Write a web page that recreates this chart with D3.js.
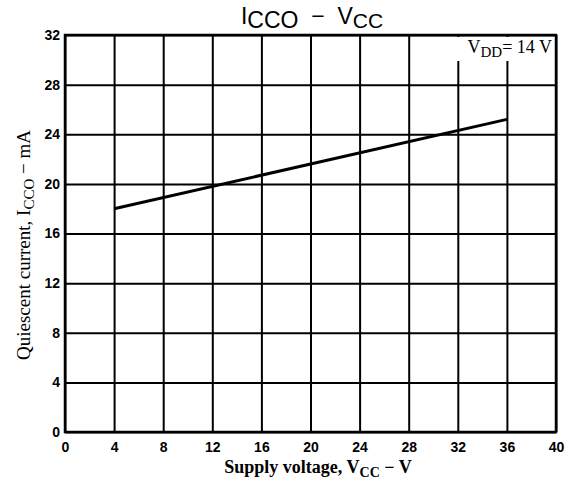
<!DOCTYPE html>
<head>
  <meta charset="utf-8">
  <script src="https://d3js.org/d3.v7.min.js"></script>
  <style>
    body { margin: 0; background: #fff; }
    svg { display: block; }
  </style>
</head>
<body>
  <svg width="570" height="486"></svg>
  <script>
    // data
    var voltage = [4, 36];
    var current = [18, 25.2];
    var xTicks = [0, 4, 8, 12, 16, 20, 24, 28, 32, 36, 40];
    var yTicks = [0, 4, 8, 12, 16, 20, 24, 28, 32];

    var margin = {top: 35, right: 14, bottom: 54, left: 65};
    var width = 570, height = 486;
    var iw = width - margin.left - margin.right;
    var ih = height - margin.top - margin.bottom;

    var x = d3.scaleLinear().domain([0, 40]).range([margin.left, width - margin.right]);
    var y = d3.scaleLinear().domain([0, 32]).range([height - margin.bottom, margin.top]);

    var svg = d3.select('svg');
    var tickFont = '"Liberation Sans", Arial, sans-serif';
    var serif = '"Liberation Serif", "Times New Roman", serif';

    // grid + axes
    var gx = svg.append('g')
      .attr('transform', 'translate(0,' + (height - margin.bottom) + ')')
      .call(d3.axisBottom(x).tickValues(xTicks).tickSize(-ih).tickPadding(10).tickFormat(d3.format('d')));
    var gy = svg.append('g')
      .attr('transform', 'translate(' + margin.left + ',0)')
      .call(d3.axisLeft(y).tickValues(yTicks).tickSize(-iw).tickPadding(5).tickFormat(d3.format('d')));

    [gx, gy].forEach(function(g) {
      g.select('.domain').remove();
      g.selectAll('.tick line').attr('stroke', '#000').attr('stroke-width', 2);
      g.selectAll('.tick text')
        .attr('fill', '#000')
        .style('font-family', tickFont)
        .style('font-weight', 'bold')
        .style('font-size', '14px');
    });

    // frame
    svg.append('rect')
      .attr('x', margin.left).attr('y', margin.top)
      .attr('width', iw).attr('height', ih)
      .attr('fill', 'none').attr('stroke', '#000').attr('stroke-width', 2.5);

    // annotation
    svg.append('rect')
      .attr('x', 436).attr('y', 37)
      .attr('width', 118).attr('height', 24)
      .attr('fill', '#fff');
    var ann = svg.append('text')
      .attr('x', 552).attr('y', 53)
      .attr('text-anchor', 'end')
      .style('font-family', serif)
      .style('font-size', '18px');
    ann.append('tspan').text('V');
    ann.append('tspan').attr('dy', 4).style('font-size', '15px').text('DD');
    ann.append('tspan').attr('dy', -4).text('= 14 V');

    // data line
    var pts = voltage.map(function(v, i) { return [v, current[i]]; });
    svg.append('path')
      .datum(pts)
      .attr('fill', 'none')
      .attr('stroke', '#000')
      .attr('stroke-width', 3)
      .attr('d', d3.line().x(function(d) { return x(d[0]); }).y(function(d) { return y(d[1]); }));

    // title
    var title = svg.append('text')
      .attr('x', 312).attr('y', 24)
      .attr('text-anchor', 'middle')
      .style('font-family', tickFont)
      .style('font-size', '23px');
    title.append('tspan').text('I');
    title.append('tspan').attr('dy', 4).text('CCO');
    title.append('tspan').attr('dy', -4).text('\u00a0\u00a0\u2212\u00a0\u00a0V');
    title.append('tspan').attr('dy', 4).style('font-size', '21px').text('CC');

    // x axis title
    var xt = svg.append('text')
      .attr('x', 318).attr('y', 473)
      .attr('text-anchor', 'middle')
      .style('font-family', serif)
      .style('font-weight', 'bold')
      .style('font-size', '18px');
    xt.append('tspan').text('Supply voltage, V');
    xt.append('tspan').attr('dy', 4).style('font-size', '14px').text('CC');
    xt.append('tspan').attr('dy', -4).text(' \u2212 V');

    // y axis title
    var yt = svg.append('text')
      .attr('transform', 'translate(30,' + 245 + ') rotate(-90)')
      .attr('text-anchor', 'middle')
      .style('font-family', serif)
      .style('font-size', '19px');
    yt.append('tspan').text('Quiescent current, I');
    yt.append('tspan').attr('dy', 4).style('font-size', '15px').text('CCO');
    yt.append('tspan').attr('dy', -4).text(' \u2212 mA');
  </script>
</body>
